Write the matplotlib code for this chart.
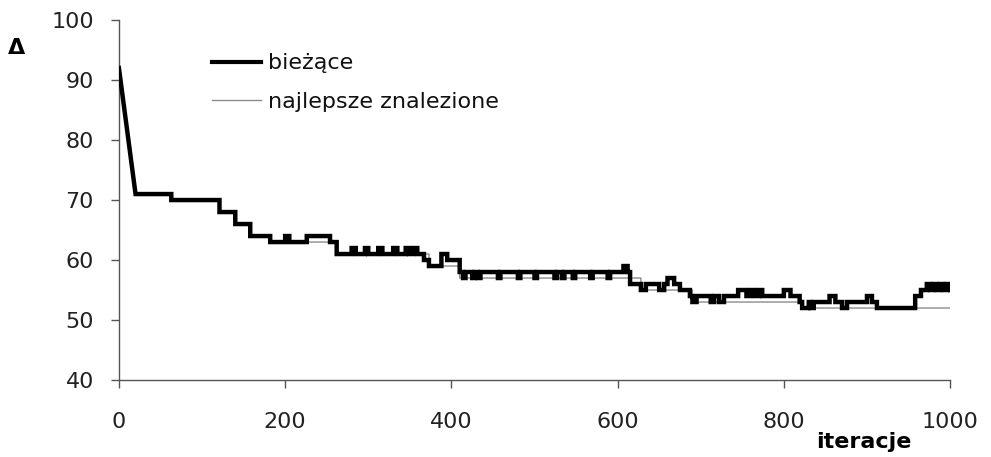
import matplotlib
matplotlib.use("Agg")
import matplotlib.pyplot as plt

# --- data: current solution; first two points form a straight ramp, rest are step change points ---
cur_iter = [0, 20,
            63, 121, 140, 158, 182, 200, 205, 226, 254, 262,
            280, 285, 296, 300, 312, 317, 330, 335, 345, 349, 354, 359,
            367, 373, 388, 395, 410,
            414, 417, 425, 428, 432, 435, 456, 459, 480, 483, 500, 503, 524, 527,
            533, 536, 546, 549, 567, 570, 588, 591, 607, 612, 615,
            628, 634, 650, 656, 660, 668, 675, 687,
            690, 695, 712, 716, 722, 728, 745, 755, 760, 765, 770, 774, 800, 808, 819,
            822, 830, 832, 836, 855, 862, 870, 876, 900, 906, 912, 958, 965, 972,
            976, 980, 984, 988, 992, 996, 1000]
cur_val = [92, 71,
           70, 68, 66, 64, 63, 64, 63, 64, 63, 61,
           62, 61, 62, 61, 62, 61, 62, 61, 62, 61, 62, 61,
           60, 59, 61, 60, 58,
           57, 58, 57, 58, 57, 58, 57, 58, 57, 58, 57, 58, 57, 58,
           57, 58, 57, 58, 57, 58, 57, 58, 59, 58, 56,
           55, 56, 55, 56, 57, 56, 55, 54,
           53, 54, 53, 54, 53, 54, 55, 54, 55, 54, 55, 54, 55, 54, 53,
           52, 53, 52, 53, 54, 53, 52, 53, 54, 53, 52, 54, 55, 56,
           55, 56, 55, 56, 55, 56, 55]

# --- data: best found so far; same ramp, then step change points ---
best_iter = [0, 20, 63, 121, 140, 158, 182, 262, 373, 410, 628, 690, 822, 1000]
best_val = [92, 71, 70, 68, 66, 64, 63, 61, 59, 57, 55, 53, 52, 52]

x_ticks = [0, 200, 400, 600, 800, 1000]
y_ticks = [40, 50, 60, 70, 80, 90, 100]
label_cur = "bieżące"
label_best = "najlepsze znalezione"


def ramp_then_steps(xs, ys):
    # straight segment between the first two points, horizontal-then-vertical steps afterwards
    px, py = [xs[0], xs[1]], [ys[0], ys[1]]
    for i in range(2, len(xs)):
        px += [xs[i], xs[i]]
        py += [ys[i - 1], ys[i]]
    return px, py


plt.rcParams['font.family'] = ['DejaVu Sans']

fig = plt.figure(figsize=(9.91, 4.57), dpi=100)
ax = fig.add_axes([0.12, 0.1685, 0.8387, 0.7875])

bx, by = ramp_then_steps(best_iter, best_val)
cx, cy = ramp_then_steps(cur_iter, cur_val)
ax.plot(bx, by, color='#8c8c8c', lw=1.0, label=label_best, zorder=2)
ax.plot(cx, cy, color='black', lw=3.2, label=label_cur, zorder=3,
        solid_joinstyle='miter')

ax.set_xlim(0, 1000)
ax.set_ylim(40, 100)
ax.set_xticks(x_ticks)
ax.set_yticks(y_ticks)
ax.tick_params(direction='out', length=6, width=1, color='#555555',
               labelsize=16, labelcolor='#222222')
ax.tick_params(axis='y', pad=12)
ax.tick_params(axis='x', pad=17)
for s in ['top', 'right']:
    ax.spines[s].set_visible(False)
for s in ['left', 'bottom']:
    ax.spines[s].set_color('#555555')
    ax.spines[s].set_linewidth(1)

handles, labels = ax.get_legend_handles_labels()
leg = ax.legend(handles[::-1], labels[::-1], loc='upper left',
                bbox_to_anchor=(0.088, 0.963), frameon=False,
                handlelength=2.2, handletextpad=0.3, labelspacing=0.82,
                prop={'size': 16})
leg.get_lines()[0].set_linewidth(3.0)
for t in leg.get_texts():
    t.set_color('#111111')

fig.text(0.008, 0.895, "Δ", fontsize=16, fontweight='bold', ha='left', va='center')
fig.text(0.872, 0.033, "iteracje", fontsize=16, fontweight='bold', ha='center', va='center')

fig.savefig("out.png", dpi=100)
